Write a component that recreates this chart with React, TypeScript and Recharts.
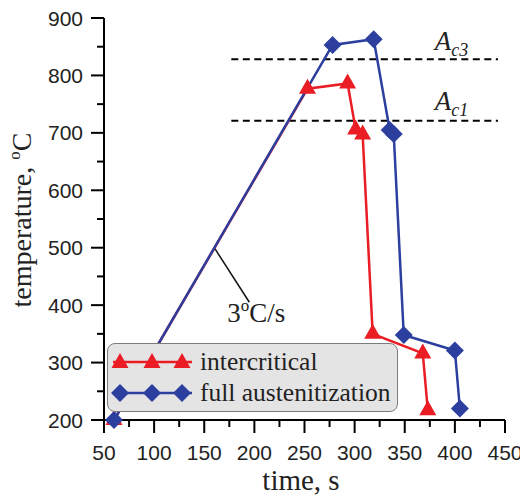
import React from 'react';
import { LineChart, Line, XAxis, YAxis, ReferenceLine, ReferenceDot, Label } from 'recharts';

const RED = '#ea1c24';
const BLUE = '#2c3f9f';
const SANS = '"Liberation Sans", Arial, sans-serif';
const SERIF = '"Liberation Serif", "Times New Roman", serif';

// ── Data ──────────────────────────────────────────────────────────────────────

const X_MAJOR = [50, 100, 150, 200, 250, 300, 350, 400, 450];
const X_MINOR = [75, 125, 175, 225, 275, 325, 375, 425];
const Y_MAJOR = [200, 300, 400, 500, 600, 700, 800, 900];
const Y_MINOR = [250, 350, 450, 550, 650, 750, 850];

// intercritical annealing cycle (time s, temperature °C)
const INTER_TIME = [60, 253, 293, 301, 308, 318, 368, 373];
const INTER_TEMP = [200, 777, 786, 706, 697, 350, 316, 217];

// full austenitization cycle
const FULL_TIME = [60, 278, 319, 335, 339, 349, 400, 405];
const FULL_TEMP = [200, 853, 863, 705, 698, 348, 321, 220];

// critical temperatures
const AC3 = 828;
const AC1 = 721;
const CRIT_FROM = 177;
const CRIT_TO = 443;

// annotations
const RATE_LEADER = [{ x: 160, y: 500 }, { x: 195, y: 405 }];
const RATE_TEXT = { x: 173, y: 371 };
const AC3_TEXT = { x: 380, y: 844 };
const AC1_TEXT = { x: 380, y: 740 };

const inter = INTER_TIME.map((t, i) => ({ t, T: INTER_TEMP[i] }));
const full = FULL_TIME.map((t, i) => ({ t, T: FULL_TEMP[i] }));

// ── Markers ───────────────────────────────────────────────────────────────────

function triPoints(cx: number, cy: number) {
  return `${cx},${cy - 10} ${cx - 8.5},${cy + 5} ${cx + 8.5},${cy + 5}`;
}
function diaPoints(cx: number, cy: number) {
  return `${cx},${cy - 9} ${cx + 9},${cy} ${cx},${cy + 9} ${cx - 9},${cy}`;
}

const triangleDot = (p: any) => (
  <polygon key={`tri-${p.index}`} points={triPoints(p.cx, p.cy)} fill={RED} />
);
const diamondDot = (p: any) => (
  <polygon key={`dia-${p.index}`} points={diaPoints(p.cx, p.cy)} fill={BLUE} />
);

// ── Ticks ─────────────────────────────────────────────────────────────────────

function XTick({ x, y, payload }: any) {
  const major = X_MAJOR.includes(payload.value);
  return (
    <g>
      <line x1={x} x2={x} y1={y} y2={y + (major ? 13 : 7)} stroke="#000" strokeWidth={2} />
      {major && (
        <text x={x} y={y + 40} textAnchor="middle" fontFamily={SANS} fontSize={21} fill="#222">
          {payload.value}
        </text>
      )}
    </g>
  );
}

function YTick({ x, y, payload }: any) {
  const major = Y_MAJOR.includes(payload.value);
  return (
    <g>
      <line x1={x} x2={x - (major ? 13 : 7)} y1={y} y2={y} stroke="#000" strokeWidth={2} />
      {major && (
        <text x={x - 21} y={y + 7.5} textAnchor="end" fontFamily={SANS} fontSize={21} fill="#222">
          {payload.value}
        </text>
      )}
    </g>
  );
}

// "3°C/s" style: small raised o followed by the rest on the baseline
const degree = (rest: string) => (
  <>
    <tspan fontSize={17} dy={-11}>o</tspan>
    <tspan dy={11}>{rest}</tspan>
  </>
);

function AcLabel(sub: string) {
  return (p: any) => (
    <text x={p.cx} y={p.cy} fontFamily={SERIF} fontSize={27} fontStyle="italic" fill="#222">
      A
      <tspan fontSize={18} dy={6}>{sub}</tspan>
    </text>
  );
}

// ── Legend ────────────────────────────────────────────────────────────────────

function LegendBox() {
  return (
    <div
      style={{
        position: 'absolute', left: 99, top: 335, width: 291, height: 69,
        boxSizing: 'border-box', border: '1.5px solid #7c7c7c', borderRadius: 8,
        background: '#e4e4e4',
      }}
    >
      <svg width={291} height={69} style={{ position: 'absolute', left: -1.5, top: -1.5 }}>
        <line x1={6} x2={85} y1={19} y2={19} stroke={RED} strokeWidth={2.5} />
        {[13, 45, 75].map(cx => <polygon key={cx} points={triPoints(cx, 20)} fill={RED} />)}
        <text x={93} y={27} fontFamily={SERIF} fontSize={25.5} fill="#222">intercritical</text>
        <line x1={6} x2={85} y1={50} y2={50} stroke={BLUE} strokeWidth={2.5} />
        {[13, 45, 75].map(cx => <polygon key={cx} points={diaPoints(cx, 50)} fill={BLUE} />)}
        <text x={93} y={58} fontFamily={SERIF} fontSize={25.5} fill="#222">full austenitization</text>
      </svg>
    </div>
  );
}

export default function App() {
  return (
    <div style={{ position: 'relative', width: 520, height: 490 }}>
      <LineChart width={520} height={490} margin={{ top: 10, right: 23, bottom: 0, left: 0 }}>
        <XAxis
          dataKey="t"
          type="number"
          domain={[50, 450]}
          ticks={[...X_MAJOR, ...X_MINOR].sort((a, b) => a - b)}
          interval={0}
          height={78}
          tickSize={0}
          tickMargin={0}
          tickLine={false}
          tick={<XTick />}
          axisLine={{ stroke: '#000', strokeWidth: 2 }}
          allowDuplicatedCategory={false}
        >
          <Label
            content={() => (
              <text x={293} y={482} textAnchor="middle" fontFamily={SERIF} fontSize={29} fill="#222">
                time, s
              </text>
            )}
          />
        </XAxis>
        <YAxis
          type="number"
          domain={[200, 900]}
          ticks={[...Y_MAJOR, ...Y_MINOR].sort((a, b) => a - b)}
          interval={0}
          width={96}
          tickSize={0}
          tickMargin={0}
          tickLine={false}
          tick={<YTick />}
          axisLine={{ stroke: '#000', strokeWidth: 2 }}
        >
          <Label
            content={() => (
              <text
                x={23} y={212} transform="rotate(-90 23 212)" textAnchor="middle"
                fontFamily={SERIF} fontSize={28} fill="#222"
              >
                temperature, {degree('C')}
              </text>
            )}
          />
        </YAxis>

        <ReferenceLine
          segment={[{ x: CRIT_FROM, y: AC3 }, { x: CRIT_TO, y: AC3 }]}
          stroke="#000" strokeWidth={2} strokeDasharray="7 4.5"
        />
        <ReferenceLine
          segment={[{ x: CRIT_FROM, y: AC1 }, { x: CRIT_TO, y: AC1 }]}
          stroke="#000" strokeWidth={2} strokeDasharray="7 4.5"
        />
        <ReferenceLine segment={RATE_LEADER} stroke="#111" strokeWidth={1.5} />
        <ReferenceDot
          x={RATE_TEXT.x} y={RATE_TEXT.y} r={0}
          shape={(p: any) => (
            <text x={p.cx} y={p.cy} fontFamily={SERIF} fontSize={27} fill="#222">
              3{degree('C/s')}
            </text>
          )}
        />
        <ReferenceDot x={AC3_TEXT.x} y={AC3_TEXT.y} r={0} shape={AcLabel('c3')} />
        <ReferenceDot x={AC1_TEXT.x} y={AC1_TEXT.y} r={0} shape={AcLabel('c1')} />

        <Line
          data={inter} dataKey="T" stroke={RED} strokeWidth={2.5}
          dot={triangleDot} activeDot={false} isAnimationActive={false}
        />
        <Line
          data={full} dataKey="T" stroke={BLUE} strokeWidth={2.5}
          dot={diamondDot} activeDot={false} isAnimationActive={false}
        />
      </LineChart>
      <LegendBox />
    </div>
  );
}
